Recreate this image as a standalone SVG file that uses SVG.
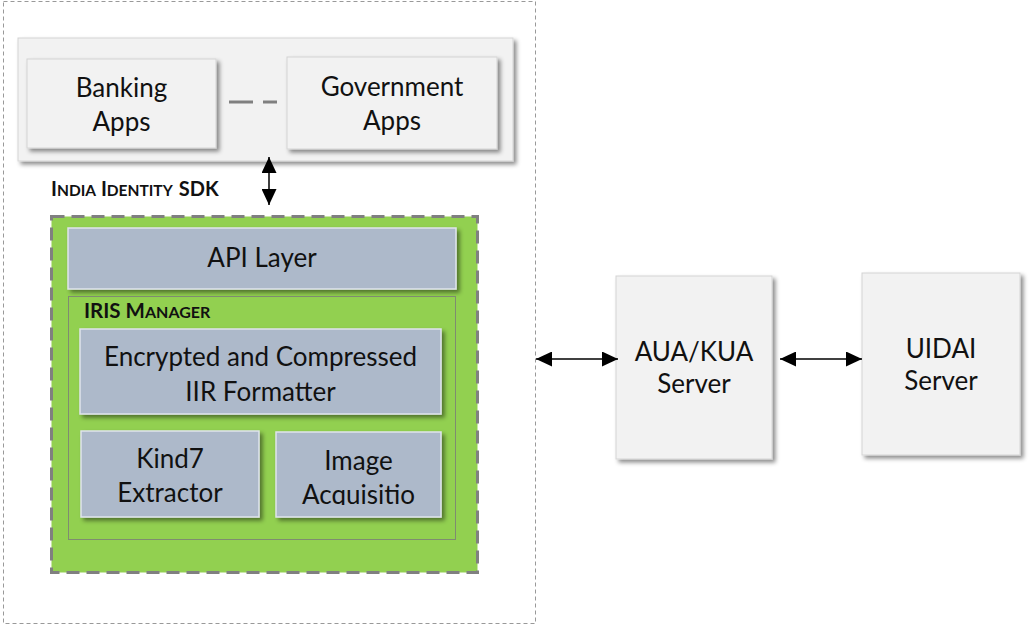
<svg xmlns="http://www.w3.org/2000/svg" width="1036" height="626" viewBox="0 0 1036 626">
<style>
  .lbl { font-family: Lato, "Liberation Sans", sans-serif; font-size: 26px; fill: #111; text-anchor: middle; }
  .cap { font-family: Lato, "Liberation Sans", sans-serif; font-weight: bold; fill: #111; }
  .gray { fill: #f2f2f2; stroke: #d4d4d4; stroke-width: 1; }
  .blue { fill: #adb9ca; stroke: #dfe4ec; stroke-width: 1.5; }
  .conn { stroke: #000; stroke-width: 1.5; fill: none; }
</style>
<defs>
  <filter id="sh" x="-10%" y="-10%" width="130%" height="130%">
    <feDropShadow dx="3" dy="3" stdDeviation="2.2" flood-color="#000" flood-opacity="0.45"/>
  </filter>
  <marker id="ah" viewBox="0 0 16 15" refX="16" refY="7.5" markerWidth="16" markerHeight="15" markerUnits="userSpaceOnUse" orient="auto-start-reverse">
    <path d="M0,0 L16,7.5 L0,15 z" fill="#000"/>
  </marker>
  <clipPath id="clipAcq"><rect x="276" y="432" width="165" height="73"/></clipPath>
</defs>

<rect width="1036" height="626" fill="#fff"/>

<g id="outer-frame">
  <rect x="3.5" y="1.5" width="532" height="622" fill="none" stroke="#999" stroke-width="1" stroke-dasharray="4 3"/>
</g>

<g id="apps-container">
  <rect class="gray" x="18" y="38" width="495" height="123" filter="url(#sh)"/>
</g>

<g id="banking-apps">
  <rect class="gray" x="27" y="59" width="189" height="89" filter="url(#sh)"/>
  <text class="lbl" x="121.5" y="97">Banking</text>
  <text class="lbl" x="121.5" y="131">Apps</text>
</g>

<g id="government-apps">
  <rect class="gray" x="287" y="57" width="210" height="92" filter="url(#sh)"/>
  <text class="lbl" x="392" y="96">Government</text>
  <text class="lbl" x="392" y="130">Apps</text>
</g>

<g id="sdk-label">
  <text class="cap" x="51" y="196"><tspan font-size="20">I</tspan><tspan font-size="15.5">NDIA</tspan><tspan font-size="20"> I</tspan><tspan font-size="15.5">DENTITY</tspan><tspan font-size="20" dx="6">SDK</tspan></text>
</g>

<g id="sdk">
  <rect x="51.5" y="216.5" width="426" height="356" fill="#92d050" stroke="#808080" stroke-width="3" stroke-dasharray="13 7"/>
</g>

<g id="api-layer">
  <rect class="blue" x="68" y="228" width="388" height="61" filter="url(#sh)"/>
  <text class="lbl" x="262" y="267">API Layer</text>
</g>

<g id="iris-manager">
  <rect x="68.5" y="296.5" width="387" height="243" fill="none" stroke="#7f8c70" stroke-width="1"/>
  <text class="cap" x="84" y="318"><tspan font-size="20.5">IRIS M</tspan><tspan font-size="16">ANAGER</tspan></text>
</g>

<g id="iir-formatter">
  <rect class="blue" x="80" y="329" width="361" height="85" filter="url(#sh)"/>
  <text class="lbl" x="260.5" y="366">Encrypted and Compressed</text>
  <text class="lbl" x="260.5" y="401">IIR Formatter</text>
</g>

<g id="kind7-extractor">
  <rect class="blue" x="81" y="431" width="178" height="86" filter="url(#sh)"/>
  <text class="lbl" x="170" y="468">Kind7</text>
  <text class="lbl" x="170" y="502">Extractor</text>
</g>

<g id="image-acquisition">
  <rect class="blue" x="276" y="432" width="165" height="85" filter="url(#sh)"/>
  <text class="lbl" x="358.5" y="470">Image</text>
  <text class="lbl" x="358.5" y="504" clip-path="url(#clipAcq)">Acquisitio</text>
</g>

<g id="aua-kua-server">
  <rect class="gray" x="616" y="276" width="156" height="183" filter="url(#sh)"/>
  <text class="lbl" x="694" y="361">AUA/KUA</text>
  <text class="lbl" x="694" y="393">Server</text>
</g>

<g id="uidai-server">
  <rect class="gray" x="862" y="273" width="158" height="182" filter="url(#sh)"/>
  <text class="lbl" x="941" y="358">UIDAI</text>
  <text class="lbl" x="941" y="390">Server</text>
</g>

<g id="connectors">
  <line x1="229" y1="102" x2="277" y2="102" stroke="#808080" stroke-width="3" stroke-dasharray="24 10"/>
  <line class="conn" x1="269" y1="157" x2="269" y2="205" marker-start="url(#ah)" marker-end="url(#ah)"/>
  <line class="conn" x1="536" y1="359" x2="618" y2="359" marker-start="url(#ah)" marker-end="url(#ah)"/>
  <line class="conn" x1="780" y1="359" x2="862" y2="359" marker-start="url(#ah)" marker-end="url(#ah)"/>
</g>
</svg>
